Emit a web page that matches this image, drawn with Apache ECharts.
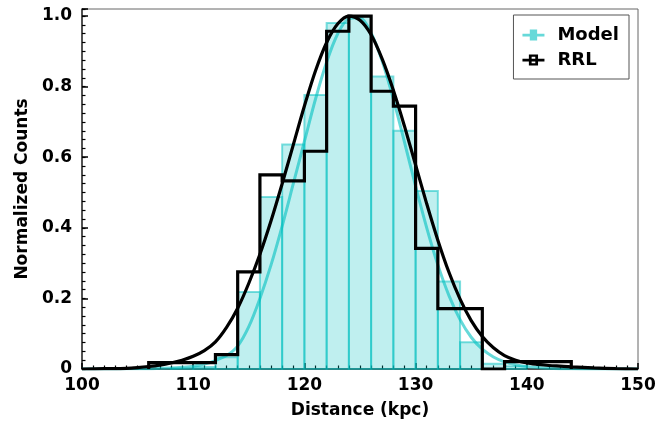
<!DOCTYPE html>
<html><head><meta charset="utf-8">
<script src="https://cdn.jsdelivr.net/npm/echarts@6/dist/echarts.min.js"></script>
<style>html,body{margin:0;padding:0;background:#fff}#c{width:670px;height:432px}</style>
</head><body><div id="c"></div>
<script>
// Model histogram (bin edges in kpc, normalized counts)
const modelEdges = [108,110,112,114,116,118,120,122,124,126,128,130,132,134,136,138,140];
const modelCounts = [0.002,0.006,0.033,0.218,0.487,0.636,0.776,0.980,1.000,0.829,0.675,0.504,0.248,0.076,0.015,0.008];
// RRL histogram (step)
const rrlEdges = [106,108,110,112,114,116,118,120,122,124,126,128,130,132,134,136,138,140,142,144];
const rrlCounts = [0.018,0.018,0.018,0.041,0.275,0.550,0.533,0.617,0.957,1.000,0.787,0.745,0.342,0.171,0.171,0,0.021,0.021,0.021];
// Fitted curves
const fitX = [100,102,104,105,106,107,108,109,110,111,112,113,114,115,116,117,118,119,120,121,122,123,124,125,126,127,128,129,130,131,132,133,134,135,136,137,138,139,140,141,142,143,144,146,148,150];
const rrlFit = [0.000,0.001,0.002,0.004,0.007,0.011,0.017,0.025,0.036,0.052,0.077,0.118,0.172,0.243,0.325,0.420,0.525,0.635,0.745,0.845,0.925,0.978,1.000,0.988,0.947,0.878,0.790,0.688,0.578,0.468,0.365,0.274,0.198,0.137,0.092,0.060,0.038,0.025,0.017,0.013,0.010,0.008,0.006,0.003,0.001,0.000];
const modelFit = [0,0,0.0005,0.0008,0.001,0.002,0.003,0.005,0.008,0.014,0.024,0.038,0.065,0.120,0.200,0.295,0.405,0.525,0.645,0.765,0.870,0.950,0.993,0.995,0.952,0.872,0.765,0.643,0.518,0.400,0.295,0.208,0.140,0.090,0.056,0.034,0.020,0.012,0.007,0.004,0.002,0.001,0.0005,0,0,0];
const xTickLabels = ['100','110','120','130','140','150'];
const yTickLabels = ['0','0.2','0.4','0.6','0.8','1.0'];

const FONT = 'DejaVu Sans';
const chart = echarts.init(document.getElementById('c'), null, {renderer:'canvas'});

const modelBins = modelCounts.map((v,i)=>[modelEdges[i], modelEdges[i+1], v]);
const rrlStep = [[rrlEdges[0],0]];
rrlCounts.forEach((v,i)=>{ rrlStep.push([rrlEdges[i],v]); rrlStep.push([rrlEdges[i+1],v]); });
rrlStep.push([rrlEdges[rrlEdges.length-1],0]);

const txt = {fontFamily:FONT, fontWeight:'bold', color:'#000'};

chart.setOption({
  animation:false,
  grid:{left:82, right:32, top:9, bottom:63, show:true, borderColor:'#666', borderWidth:1},
  legend:{
    data:[
      {name:'Model', icon:'path://M0,5.5L24,5.5L24,8.5L0,8.5Z M8,1L16,1L16,13L8,13Z'},
      {name:'RRL', icon:'path://M0,5.5L24,5.5L24,8.5L0,8.5Z M7,1L10,1L10,13L7,13Z M14,1L17,1L17,13L14,13Z M7,1L17,1L17,3.5L7,3.5Z M7,10.5L17,10.5L17,13L7,13Z'}
    ],
    orient:'vertical', right:41, top:15, padding:[11,10,10,9], itemGap:7, itemWidth:22, itemHeight:14,
    borderColor:'#555', borderWidth:1, borderRadius:0, backgroundColor:'#fff',
    textStyle:Object.assign({fontSize:18, padding:[0,0,0,8]}, txt)
  },
  xAxis:{
    type:'value', min:100, max:150, interval:10,
    axisLine:{show:true, onZero:false, lineStyle:{color:'#333', width:1.5}},
    axisTick:{show:true, inside:true, length:6, lineStyle:{color:'#000', width:1.5}},
    minorTick:{show:true, splitNumber:10, length:3.5, lineStyle:{color:'#000', width:1.2}},
    splitLine:{show:false},
    axisLabel:Object.assign({fontSize:17, margin:8, formatter:(v)=>xTickLabels[Math.round((v-100)/10)]}, txt),
    name:'Distance (kpc)', nameLocation:'middle', nameGap:33,
    nameTextStyle:Object.assign({fontSize:17}, txt)
  },
  yAxis:[{
    type:'value', min:0, max:1.02, interval:0.2,
    axisLine:{show:true, onZero:false, lineStyle:{color:'#333', width:1.5}},
    axisTick:{show:true, inside:true, length:6, lineStyle:{color:'#000', width:1.5}},
    splitLine:{show:false},
    axisLabel:Object.assign({fontSize:17, margin:10, formatter:(v)=>{
      const k = Math.round(v/0.2);
      return Math.abs(v - k*0.2) < 1e-6 ? yTickLabels[k] : '';
    }}, txt),
    name:'Normalized Counts', nameLocation:'middle', nameGap:50,
    nameTextStyle:Object.assign({fontSize:17}, txt)
  },{
    type:'value', min:0, max:1.02, interval:0.025, position:'left',
    axisLine:{show:false}, axisLabel:{show:false}, splitLine:{show:false},
    axisTick:{show:true, inside:true, length:3.5, lineStyle:{color:'#000', width:1.2}}
  }],
  series:[
    {
      name:'Model hist', type:'custom', data:modelBins, encode:{x:[0,1], y:2}, z:1,
      renderItem:(params, api)=>{
        const p0 = api.coord([api.value(0), api.value(2)]);
        const p1 = api.coord([api.value(1), 0]);
        return {type:'rect', shape:{x:p0[0], y:p0[1], width:p1[0]-p0[0], height:p1[1]-p0[1]},
          style:{fill:'rgba(0,191,191,0.25)', stroke:'rgba(0,191,191,0.5)', lineWidth:2}};
      }
    },
    {
      name:'Model', type:'line', data:fitX.map((x,i)=>[x, modelFit[i]]), smooth:0.3, showSymbol:false, z:2,
      color:'rgba(0,191,191,0.6)', lineStyle:{width:3, color:'rgba(0,191,191,0.6)'}
    },
    {
      name:'RRL', type:'line', data:rrlStep, showSymbol:false, z:3, color:'#000',
      lineStyle:{width:3.2, color:'#000', join:'miter', cap:'butt'}
    },
    {
      name:'RRL fit', type:'line', data:fitX.map((x,i)=>[x, rrlFit[i]]), smooth:0.3, showSymbol:false, z:4,
      color:'#000', lineStyle:{width:3.2, color:'#000'}
    }
  ]
});
</script></body></html>
